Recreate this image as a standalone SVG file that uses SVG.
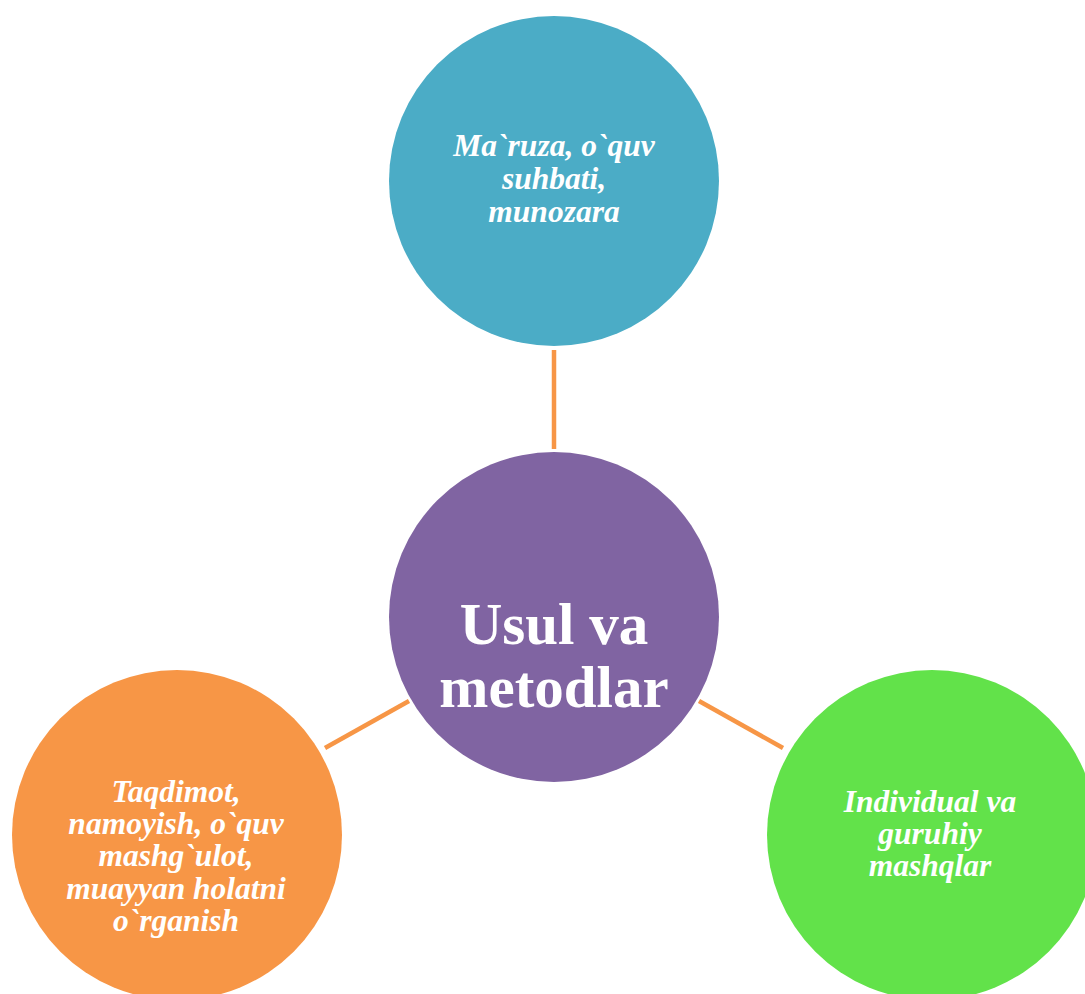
<svg xmlns="http://www.w3.org/2000/svg" width="1085" height="994" viewBox="0 0 1085 994">
<style>
.bg{fill:#ffffff}
.conn{stroke:#F79646;stroke-width:4.5;fill:none}
.lbl{font-family:"Liberation Serif","Times New Roman",serif;font-weight:bold;font-style:italic;font-size:31.5px;fill:#ffffff;text-anchor:middle}
.main{font-family:"Liberation Serif","Times New Roman",serif;font-weight:bold;font-size:59px;fill:#ffffff;text-anchor:middle}
</style>
<rect class="bg" x="0" y="0" width="1085" height="994"/>
<g id="connectors">
<line class="conn" x1="554" y1="350" x2="554" y2="449"/>
<line class="conn" x1="325" y1="748" x2="409" y2="701"/>
<line class="conn" x1="699" y1="701" x2="783" y2="748"/>
</g>
<g id="node-top">
<circle cx="554" cy="181" r="165" fill="#4BACC6"/>
<text class="lbl" x="554" y="156">Ma`ruza, o`quv</text>
<text class="lbl" x="554" y="189">suhbati,</text>
<text class="lbl" x="554" y="222">munozara</text>
</g>
<g id="node-center">
<circle cx="554" cy="617" r="165" fill="#8064A2"/>
<text class="main" x="554" y="644">Usul va</text>
<text class="main" x="554" y="707">metodlar</text>
</g>
<g id="node-left">
<circle cx="177" cy="835" r="165" fill="#F79646"/>
<text class="lbl" x="176" y="802">Taqdimot,</text>
<text class="lbl" x="176" y="834">namoyish, o`quv</text>
<text class="lbl" x="176" y="866">mashg`ulot,</text>
<text class="lbl" x="176" y="899">muayyan holatni</text>
<text class="lbl" x="176" y="931">o`rganish</text>
</g>
<g id="node-right">
<circle cx="932" cy="835" r="165" fill="#62E24A"/>
<text class="lbl" x="930" y="812">Individual va</text>
<text class="lbl" x="930" y="844">guruhiy</text>
<text class="lbl" x="930" y="876">mashqlar</text>
</g>
</svg>
